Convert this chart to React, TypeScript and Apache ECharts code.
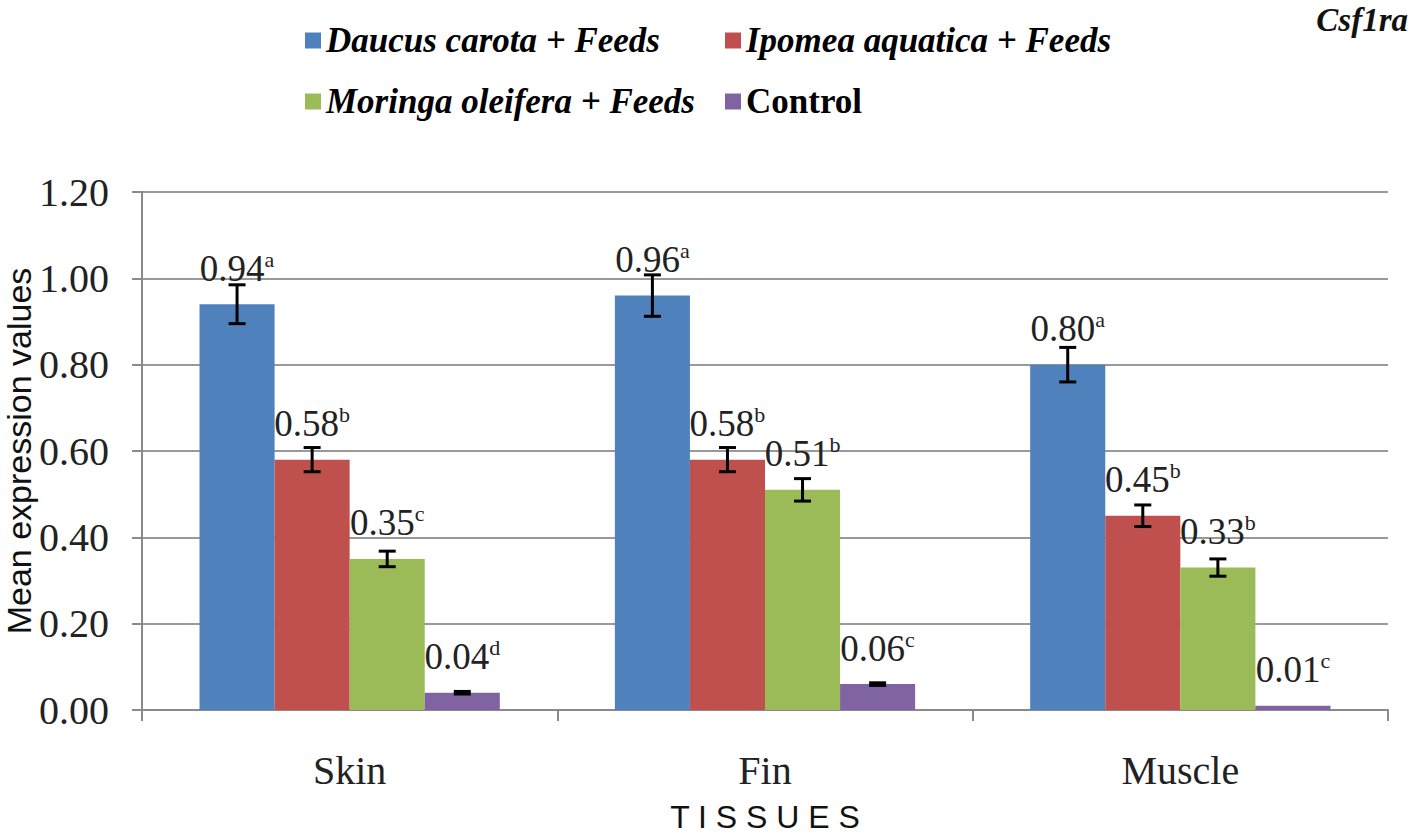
import React, { useEffect, useRef } from "react";
import * as echarts from "echarts";

const categories = ["Skin", "Fin", "Muscle"];
const seriesNames = [
  "Daucus carota + Feeds",
  "Ipomea aquatica + Feeds",
  "Moringa oleifera + Feeds",
  "Control",
];
const colors = ["#4F81BD", "#C0504D", "#9BBB59", "#8064A2"];

const daucus = [0.94, 0.96, 0.8];
const ipomea = [0.58, 0.58, 0.45];
const moringa = [0.35, 0.51, 0.33];
const control = [0.04, 0.06, 0.01];

const daucusErr = [0.045, 0.048, 0.04];
const ipomeaErr = [0.028, 0.028, 0.025];
const moringaErr = [0.018, 0.026, 0.02];
const controlErr = [0.003, 0.003, 0];

const daucusLetters = ["a", "a", "a"];
const ipomeaLetters = ["b", "b", "b"];
const moringaLetters = ["c", "b", "b"];
const controlLetters = ["d", "c", "c"];

const values = [daucus, ipomea, moringa, control];
const errors = [daucusErr, ipomeaErr, moringaErr, controlErr];
const letters = [daucusLetters, ipomeaLetters, moringaLetters, controlLetters];

const yMin = 0;
const yMax = 1.2;
const yInterval = 0.2;

const SERIF = "Liberation Serif";
const SANS = "Liberation Sans";
const GAP = 0.277;

export default function App() {
  const ref = useRef<HTMLDivElement>(null);

  useEffect(() => {
    document.body.style.margin = "0";
    if (!ref.current) return;
    const chart = echarts.init(ref.current, null, { renderer: "svg" });

    const barSeries = seriesNames.map((name, si) => ({
      name,
      type: "bar",
      data: values[si],
      barGap: "0%",
      barCategoryGap: GAP * 100 + "%",
      itemStyle: { color: colors[si] },
      z: 2,
      label: {
        show: true,
        position: "top",
        distance: 16,
        formatter: (p: any) => `{v|${Number(p.value).toFixed(2)}}{s|${letters[si][p.dataIndex]}}`,
        rich: {
          v: { fontFamily: SERIF, fontSize: 37, color: "#222", lineHeight: 40 },
          s: { fontFamily: SERIF, fontSize: 22, color: "#222", verticalAlign: "top", lineHeight: 24 },
        },
      },
    }));

    const errorSeries = seriesNames.map((name, si) => ({
      name: name + " error",
      type: "custom",
      z: 5,
      data: values[si].map((v, ci) => [ci, v, errors[si][ci]]),
      renderItem: (params: any, api: any) => {
        const ci = api.value(0);
        const v = api.value(1);
        const e = api.value(2);
        if (!(e > 0)) return { type: "group", children: [] };
        const base = api.coord([ci, 0]);
        const band = api.size([1, 0])[0];
        const total = band * (1 - GAP);
        const bw = total / 4;
        const x = base[0] - total / 2 + bw * (si + 0.5);
        const yHi = api.coord([ci, v + e])[1];
        const yLo = api.coord([ci, v - e])[1];
        const lineStyle = { stroke: "#000", lineWidth: 3 };
        const cap = 8.5;
        return {
          type: "group",
          children: [
            { type: "line", shape: { x1: x, y1: yHi, x2: x, y2: yLo }, style: lineStyle },
            { type: "line", shape: { x1: x - cap, y1: yHi, x2: x + cap, y2: yHi }, style: lineStyle },
            { type: "line", shape: { x1: x - cap, y1: yLo, x2: x + cap, y2: yLo }, style: lineStyle },
          ],
        };
      },
    }));

    const legendPos = [
      { left: 300, top: 18 },
      { left: 720, top: 18 },
      { left: 300, top: 79 },
      { left: 720, top: 79 },
    ];

    const option: any = {
      animation: false,
      backgroundColor: "#fff",
      title: {
        text: "Csf1ra",
        right: 5,
        top: -2,
        textStyle: {
          fontFamily: SERIF,
          fontSize: 33,
          fontStyle: "italic",
          fontWeight: "bold",
          color: "#111",
        },
      },
      legend: seriesNames.map((n, i) => ({
        data: [n],
        left: legendPos[i].left,
        top: legendPos[i].top,
        icon: "rect",
        itemWidth: 16,
        itemHeight: 16,
        selectedMode: false,
        textStyle: {
          fontFamily: SERIF,
          fontSize: 35,
          fontWeight: "bold",
          fontStyle: i === 3 ? "normal" : "italic",
          color: "#000",
        },
      })),
      grid: {
        left: 142,
        right: 30,
        top: 192,
        bottom: 125,
        containLabel: false,
        outerBoundsMode: "none",
      },
      xAxis: {
        type: "category",
        data: categories,
        name: "T I S S U E S",
        nameLocation: "middle",
        nameGap: 91,
        nameMoveOverlap: false,
        nameTextStyle: { fontFamily: SANS, fontSize: 32, color: "#111" },
        axisLine: { lineStyle: { color: "#8a8a8a", width: 2 } },
        axisTick: { show: true, alignWithLabel: false, length: 11, lineStyle: { color: "#8a8a8a", width: 2 } },
        axisLabel: { fontFamily: SERIF, fontSize: 40, color: "#222", margin: 40 },
      },
      yAxis: {
        type: "value",
        min: yMin,
        max: yMax,
        interval: yInterval,
        name: "Mean expression values",
        nameLocation: "middle",
        nameGap: 106,
        nameMoveOverlap: false,
        nameTextStyle: { fontFamily: SANS, fontSize: 34, color: "#111" },
        axisLine: { show: true, lineStyle: { color: "#8a8a8a", width: 2 } },
        axisTick: { show: true, length: 10, lineStyle: { color: "#8a8a8a", width: 2 } },
        axisLabel: {
          fontFamily: SERIF,
          fontSize: 40,
          color: "#222",
          margin: 33,
          formatter: (v: number) => v.toFixed(2),
        },
        splitLine: { lineStyle: { color: "#999", width: 2 } },
      },
      series: [...barSeries, ...errorSeries],
    };

    chart.setOption(option);
    return () => chart.dispose();
  }, []);

  return <div ref={ref} style={{ width: "1418px", height: "835px" }} />;
}
